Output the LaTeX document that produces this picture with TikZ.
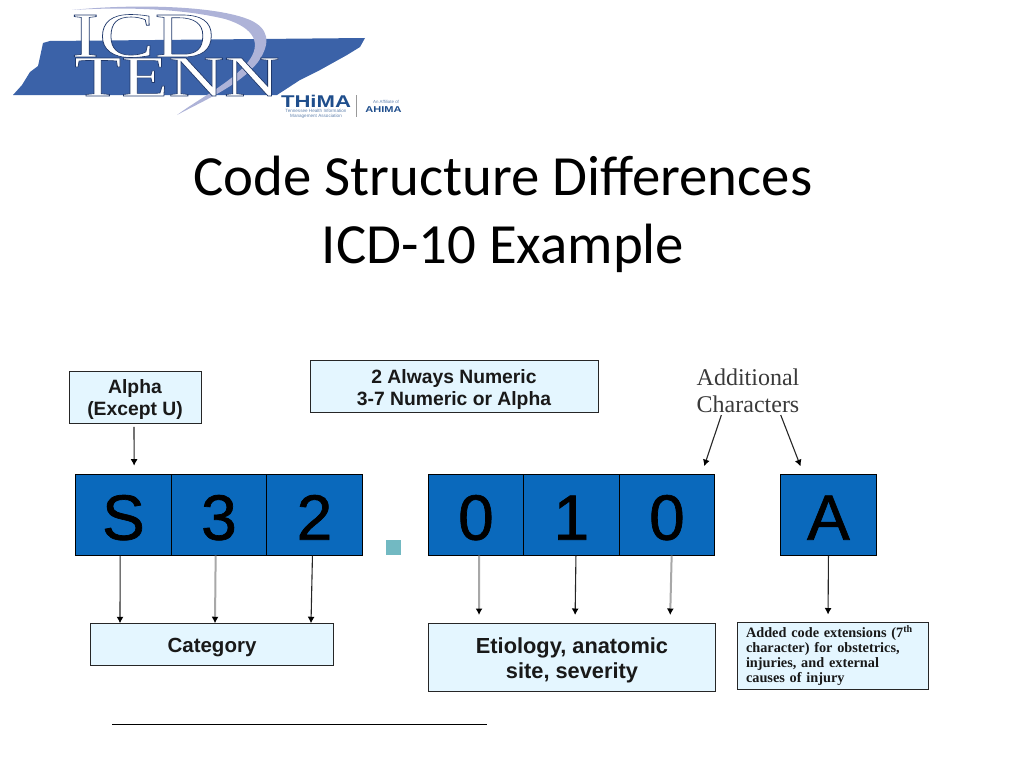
\documentclass[tikz,border=0pt]{standalone}
\usepackage{fontspec}
\setmainfont{Carlito}
\setsansfont{Liberation Sans}
\newfontfamily\serifface{Liberation Serif}
\usetikzlibrary{matrix,arrows.meta}

\definecolor{cellblue}{HTML}{0A69BC}
\definecolor{paleblue}{HTML}{E4F6FF}
\definecolor{statemap}{HTML}{3B62A8}
\definecolor{swoosh}{HTML}{AEB3D8}
\definecolor{logotext}{HTML}{1F4E8C}
\definecolor{dotteal}{HTML}{72B9C2}
\definecolor{arrowgray}{HTML}{A8A8A8}
\definecolor{labelgray}{HTML}{3A3A3A}

% White letters with a dark rim for the logo, heavier black ones for the cells
\newcommand{\rimtext}[1]{\special{pdf:code 0.12 0.22 0.42 RG 2 Tr 0.6 w}#1\special{pdf:code 0 Tr}}
\newcommand{\heavytext}[1]{\special{pdf:code 0 0 0 RG 2 Tr 0.7 w}#1\special{pdf:code 0 Tr}}

\tikzset{
  plainbox/.style = {
    draw = black!85,
    line width = 1pt,
    fill = paleblue,
    inner sep = 0pt,
    text = black!90
  },
  infobox/.style = {
    plainbox,
    align = center,
    text depth = 0pt,
    font = \sffamily\bfseries\fontsize{19.3}{22}\selectfont
  },
  codecells/.style = {
    matrix of nodes,
    inner sep = 0pt,
    anchor = north west,
    column sep = -1pt,
    nodes = {
      anchor = center,
      draw = black,
      line width = 1pt,
      fill = cellblue,
      minimum width = 95.5pt,
      minimum height = 81pt,
      inner sep = 0pt,
      text height = 50pt,
      text depth = 0pt,
      font = \sffamily\fontsize{64}{64}\selectfont
    }
  },
  logolabel/.style = {inner sep = 0pt, text = logotext},
  darkarrow/.style = {-{Latex[length = 6.5pt, width = 7pt, black]}, line width = 1.1pt, black!85},
  grayarrow/.style = {-{Latex[length = 6.5pt, width = 7pt, black]}, line width = 2pt, arrowgray}
}

\begin{document}
\begin{tikzpicture}[x = 1pt, y = -1pt]
  \useasboundingbox (0,0) rectangle (1024,768);

  % The logo
  \fill[statemap] (13,95) -- (22,85) -- (30,72) -- (38,66) -- (40,57) -- (43,43) -- (50,41) -- (365,38)
    -- (360,47) -- (347,55) -- (320,70) -- (300,80) -- (277,95) -- cycle;
  \fill[swoosh] (72,10) .. controls (130,4) and (215,5) .. (250,20)
    .. controls (268,28) and (272,42) .. (258,62) .. controls (240,85) and (205,100) .. (177,115)
    .. controls (200,98) and (232,82) .. (248,62) .. controls (262,44) and (255,28) .. (225,19)
    .. controls (180,8) and (120,7) .. (72,10) -- cycle;
  \node[text = white, inner sep = 0pt, xscale = 1.3, font = \serifface\fontsize{64}{64}\selectfont] (icd) at (143,36) {\rimtext{ICD}};
  \node[text = white, inner sep = 0pt, xscale = 1.33, font = \serifface\fontsize{58}{58}\selectfont] (tenn) at (177,77) {\rimtext{TENN}};
  \node[logolabel, xscale = 1.3, font = \sffamily\bfseries\fontsize{17}{17}\selectfont] (thima) at (316,101) {THiMA};
  \node[logolabel, text = logotext!70, align = center, font = \sffamily\fontsize{4.6}{5}\selectfont] (thimasub) at (316,113.5) {Tennessee Health Information\\Management Association};
  \node[logolabel, text = logotext!70, font = \sffamily\fontsize{4.4}{4.4}\selectfont] (affil) at (386,102) {An Affiliate of};
  \node[logolabel, xscale = 1.3, font = \sffamily\bfseries\fontsize{8.5}{8.5}\selectfont] (ahima) at (383.5,110) {AHIMA};
  \draw[black!40, line width = .5pt] (356,95) -- (356,117);

  % The title
  \node[align = center, text = black, font = \fontsize{56.8}{68}\selectfont] (title) at (503,214.5) {Code Structure Differences\\ICD-10 Example};

  % The code cells
  \matrix[codecells] (cat) at (75,473.5) {
    \heavytext{S} & \heavytext{3} & \heavytext{2} \\
  };
  \matrix[codecells] (eti) at (427.5,473.5) {
    \heavytext{0} & \heavytext{1} & \heavytext{0} \\
  };
  \matrix[codecells] (ext) at (780,473.5) {
    \heavytext{A} \\
  };
  \node[fill = dotteal, minimum size = 15pt, inner sep = 0pt] (dot) at (393.5,547.5) {};

  % The boxes around the code
  \node[infobox, minimum width = 132pt, minimum height = 51.5pt, text height = 36.5pt] (alpha) at (135,397.5) {Alpha\\(Except U)};
  \node[infobox, minimum width = 288pt, minimum height = 52pt, text height = 38.5pt] (rule) at (454,386) {2 Always Numeric\\3-7 Numeric or Alpha};
  \node[text = labelgray, align = center, inner sep = 0pt, font = \serifface\fontsize{24}{27}\selectfont] (addl) at (748,391) {Additional\\Characters};
  \node[infobox, minimum width = 243.5pt, minimum height = 41.5pt, text height = 15.5pt, font = \sffamily\bfseries\fontsize{20.5}{24}\selectfont] (category) at (212,644.5) {Category};
  \node[infobox, minimum width = 287.5pt, minimum height = 68pt, text height = 42pt, font = \sffamily\bfseries\fontsize{21.8}{25}\selectfont] (etiology) at (572,657.5) {Etiology, anatomic\\site, severity};
  \node[plainbox, minimum width = 191pt, minimum height = 67pt, text width = 173pt, align = left, font = \serifface\bfseries\fontsize{14.3}{15}\selectfont] (added) at (832.5,655.5) {Added code extensions (7\textsuperscript{th}\\character) for obstetrics,\\injuries, and external\\causes of injury};

  % The arrows into the cells
  \draw[darkarrow, shorten > = 8pt, shorten < = 3pt] ([xshift = -1pt]alpha.south) -- ([xshift = 10.7pt]cat-1-1.north);
  \draw[darkarrow, shorten > = 8pt, shorten < = 2pt] ([xshift = -26pt]addl.south) -- ([xshift = 34.7pt]eti-1-3.north);
  \draw[darkarrow, shorten > = 8pt, shorten < = 2pt] ([xshift = 32pt]addl.south) -- ([xshift = -25pt]ext-1-1.north);

  % The arrows out of the cells
  \draw[darkarrow] ([xshift = -3.3pt]cat-1-1.south) -- ([xshift = -92pt]category.north);
  \draw[grayarrow] ([xshift = -3.3pt]cat-1-2.south) -- ([xshift = 3pt]category.north);
  \draw[darkarrow] ([xshift = -2pt]cat-1-3.south) -- ([xshift = 99pt]category.north);
  \draw[grayarrow, shorten > = 8pt] ([xshift = 3.2pt]eti-1-1.south) -- ([xshift = -93pt]etiology.north);
  \draw[darkarrow, shorten > = 8pt] ([xshift = 4.5pt]eti-1-2.south) -- ([xshift = 3pt]etiology.north);
  \draw[grayarrow, shorten > = 8pt] ([xshift = 4.7pt]eti-1-3.south) -- ([xshift = 98pt]etiology.north);
  \draw[darkarrow, shorten > = 7pt] (ext-1-1.south) -- ([xshift = -4.5pt]added.north);

  % The line at the bottom
  \coordinate (linestart) at (112,724.5);
  \coordinate (lineend) at (487,724.5);
  \draw[black, line width = .9pt] (linestart) -- (lineend);
\end{tikzpicture}
\end{document}
